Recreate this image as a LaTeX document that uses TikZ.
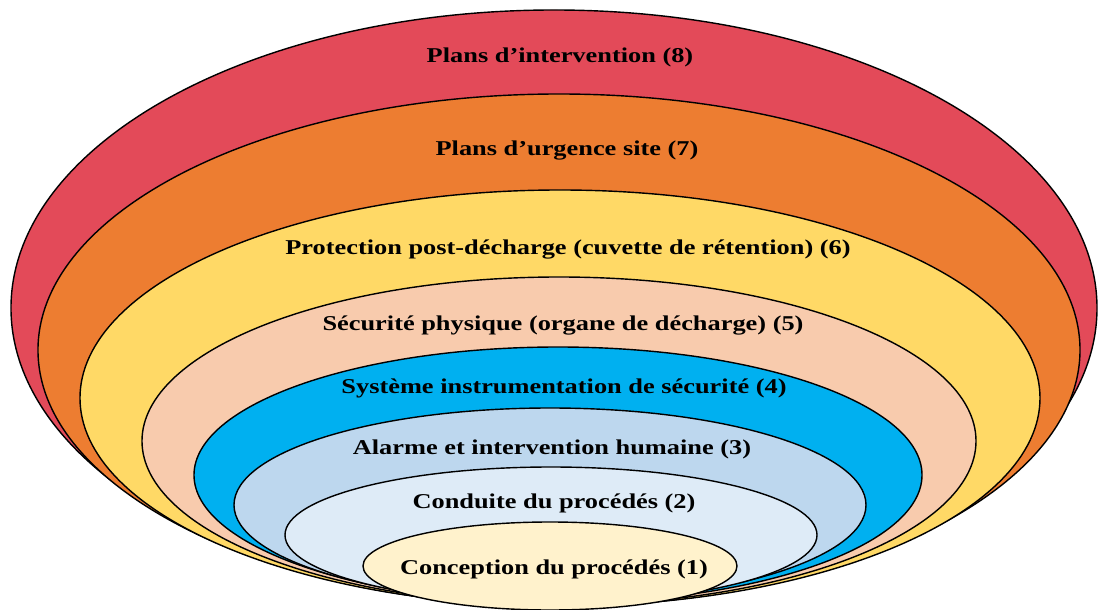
\documentclass[tikz,border=0pt]{standalone}
\usepackage{fontspec}
\setmainfont{Liberation Serif}[FakeStretch=1.25]
\usetikzlibrary{shapes.geometric, positioning}
\definecolor{couche8}{HTML}{E34A59}
\definecolor{couche7}{HTML}{ED7D31}
\definecolor{couche6}{HTML}{FFD966}
\definecolor{couche5}{HTML}{F8CBAD}
\definecolor{couche4}{HTML}{00B0F0}
\definecolor{couche3}{HTML}{BDD7EE}
\definecolor{couche2}{HTML}{DEEBF7}
\definecolor{couche1}{HTML}{FFF2CC}
\tikzset{
	layer/.style={draw, ellipse, line width=0.8pt, inner sep=0pt},
	txt/.style={font=\bfseries\fontsize{12}{14}\selectfont, align=center}
}

\begin{document}
\begin{tikzpicture}[x=0.2mm, y=-0.2mm]
		\useasboundingbox (0,0) rectangle (1098,610);
		\clip (0,0) rectangle (1098,610);
		
		\node[layer, fill=couche8, minimum width=217.2mm, minimum height=119.2mm] (interv) at (554,308) {};
		\node[txt] (interv-txt) at (560,57) {Plans d’intervention (8)};
		
		\node[layer, fill=couche7, minimum width=208.4mm, minimum height=102.4mm] (urgence) at (559,350) {};
		\node[txt] (urgence-txt) at (567,151) {Plans d’urgence site (7)};
		
		\node[layer, fill=couche6, minimum width=192mm, minimum height=83.2mm] (postdech) at (560,398) {};
		\node[txt] (postdech-txt) at (568,250) {Protection post-décharge (cuvette de rétention) (6)};
		
		\node[layer, fill=couche5, minimum width=166.8mm, minimum height=65.6mm] (physique) at (559,441) {};
		\node[txt] (physique-txt) at (563,326) {Sécurité physique (organe de décharge) (5)};
		
		\node[layer, fill=couche4, minimum width=145.6mm, minimum height=51.2mm] (sis) at (558,475) {};
		\node[txt] (sis-txt) at (564,388) {Système instrumentation de sécurité (4)};
		
		\node[layer, fill=couche3, minimum width=126.4mm, minimum height=38.8mm] (alarme) at (550,505) {};
		\node[txt] (alarme-txt) at (552,449) {Alarme et intervention humaine (3)};
		
		\node[layer, fill=couche2, minimum width=106.4mm, minimum height=27.2mm] (conduite) at (551,535) {};
		\node[txt] (conduite-txt) at (554,503) {Conduite du procédés (2)};
		
		\node[layer, fill=couche1, minimum width=74.8mm, minimum height=17.6mm] (conception) at (550,566) {};
		\node[txt] (conception-txt) at (554,569) {Conception du procédés (1)};
	\end{tikzpicture}
\end{document}
